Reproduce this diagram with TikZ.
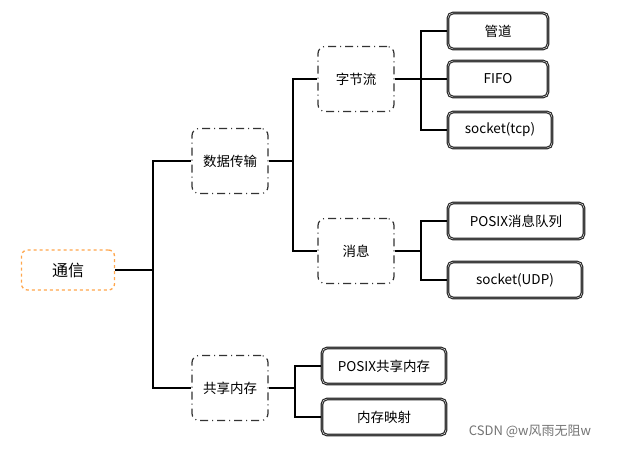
\documentclass[tikz,border=0pt]{standalone}
\usepackage{fontspec}
\setmainfont{Noto Sans CJK SC}
\tikzset{
  root/.style={draw=orange!70, dashed, line width=1.3pt, rounded corners=6pt, minimum width=93pt, minimum height=40pt, font=\fontsize{16}{18}\selectfont},
  mid/.style={draw=black!80, dash pattern=on 8pt off 4pt on 1pt off 4pt, line width=1.2pt, rounded corners=7pt, minimum width=76pt, minimum height=65pt, font=\fontsize{13.5}{15}\selectfont},
  leaf/.style={draw=black!85, line width=1.2pt, rounded corners=5pt, minimum height=36pt, font=\fontsize{13.5}{15}\selectfont, double distance=0.4pt},
  link/.style={line width=1.3pt, black}
}
\begin{document}
\begin{tikzpicture}[x=1pt,y=-1pt]
\useasboundingbox (0,0) rectangle (636,450);

\node (root) [root] at (68,270) {通信};
\node (data) [mid] at (230,161) {数据传输};
\node (byte) [mid] at (356,79) {字节流};
\node (msg) [mid] at (356,251) {消息};
\node (shm) [mid] at (230,388) {共享内存};

\node (pipe) [leaf, minimum width=100pt] at (498,31) {管道};
\node (fifo) [leaf, minimum width=100pt] at (498,79) {FIFO};
\node (tcp) [leaf, minimum width=104pt] at (500,130) {socket(tcp)};
\node (pmq) [leaf, minimum width=136pt] at (516,221) {POSIX消息队列};
\node (udp) [leaf, minimum width=134pt] at (515,280) {socket(UDP)};
\node (pshm) [leaf, minimum width=124pt] at (384,366) {POSIX共享内存};
\node (mmap) [leaf, minimum width=124pt] at (384,417) {内存映射};

\node (wm) [text=black!55, font=\fontsize{13}{15}\selectfont] at (530,431) {CSDN @w风雨无阻w};

\draw [link] (root.east) -| (153,270) |- (data.west);
\draw [link] (153,270) |- (shm.west);
\draw [link] (data.east) -| (293,161) |- (byte.west);
\draw [link] (293,161) |- (msg.west);
\draw [link] (byte.east) -- (fifo.west);
\draw [link] (pipe.west) -| (421,79) |- (tcp.west);
\draw [link] (msg.east) -| (421,251) |- (pmq.west);
\draw [link] (421,251) |- (udp.west);
\draw [link] (shm.east) -| (295,388) |- (pshm.west);
\draw [link] (295,388) |- (mmap.west);
\end{tikzpicture}
\end{document}
